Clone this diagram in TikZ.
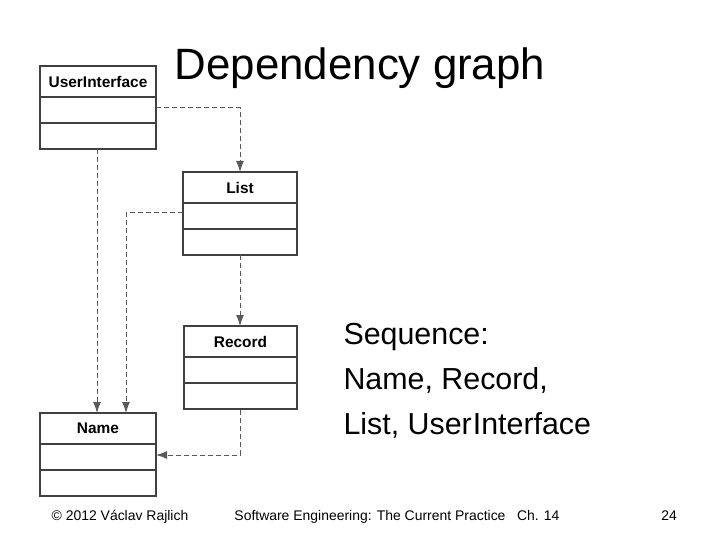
\documentclass[tikz,border=0pt]{standalone}
\usepackage{fontspec}
\setmainfont{Liberation Sans}
\usetikzlibrary{arrows.meta}
\begin{document}
\begin{tikzpicture}[x=1bp,y=-1bp,
  box/.style={draw=black!75,line width=1.2bp},
  hd/.style={font=\bfseries\fontsize{15.5}{17}\selectfont},
  dep/.style={draw=black!65,dashed,line width=1bp,dash pattern=on 5bp off 3bp,-{Latex[length=11bp,width=8bp]}},
  footer/.style={font=\fontsize{14}{16}\selectfont,anchor=base}]
\useasboundingbox (0,0) rectangle (720,540);
\newcommand{\umlbox}[5]{% name, x1,y1,x2,label
  \draw[box] (#2,#3) rectangle (#4,#3+83);
  \draw[box] (#2,#3+31) -- (#4,#3+31);
  \draw[box] (#2,#3+57) -- (#4,#3+57);
  \node[hd] (#1) at ({(#2+#4)/2},#3+15.5) {#5};
  \coordinate (#1-nw) at (#2,#3);
}
\umlbox{ui}{40}{66}{156}{UserInterface}
\umlbox{list}{183}{172}{297}{List}
\umlbox{rec}{184}{326}{297}{Record}
\umlbox{name}{40}{413}{156}{Name}
\node[font=\fontsize{44}{48}\selectfont] (title) at (360,68) {Dependency graph};
\coordinate (uiR) at (156,108); \coordinate (listT) at (240,172);
\coordinate (listL) at (183,213); \coordinate (nameT2) at (126,413);
\coordinate (uiB) at (97,149); \coordinate (nameT1) at (97,413);
\coordinate (listB) at (240,255); \coordinate (recT) at (240,326);
\coordinate (recB) at (240,410); \coordinate (nameR) at (156,455);
\draw[dep] (uiR) -| (listT);
\draw[dep] (listL) -| (nameT2);
\draw[dep] (uiB) -- (nameT1);
\draw[dep] (listB) -- (recT);
\draw[dep] (recB) |- (nameR);
\node[anchor=west,align=left,font=\fontsize{30.5}{45.5}\selectfont] (seq) at (340,381) {Sequence:\\Name, Record,\\List, User\kern1bp Interface};
\node[footer] (f1) at (120,520) {© 2012 Václav Rajlich};
\node[footer] (f2) at (397,520) {Software Engineering: The Current Practice \ \ Ch. 14};
\node[footer] (f3) at (669,520) {24};
\end{tikzpicture}
\end{document}
